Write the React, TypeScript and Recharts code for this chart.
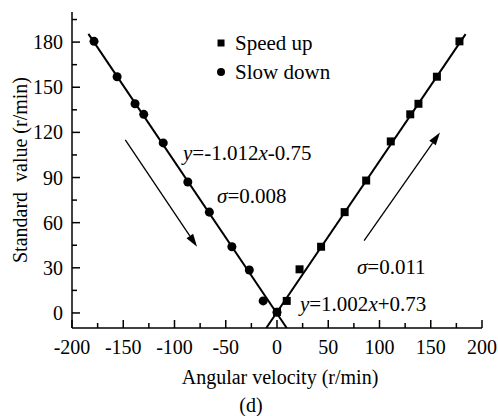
import { Label, ReferenceDot, ReferenceLine, Scatter, ScatterChart, XAxis, YAxis } from 'recharts'

// values
const speedUp = [
  { x: 0, y: 0.7 },
  { x: 9.5, y: 8 },
  { x: 22, y: 29 },
  { x: 43, y: 44 },
  { x: 66, y: 67 },
  { x: 87, y: 88 },
  { x: 111, y: 114 },
  { x: 130, y: 132 },
  { x: 138, y: 139 },
  { x: 156, y: 157 },
  { x: 178, y: 180.5 },
]

const slowDown = [
  { x: 0, y: 0.5 },
  { x: -13.5, y: 8 },
  { x: -27, y: 28.5 },
  { x: -44, y: 44 },
  { x: -66, y: 67 },
  { x: -87, y: 87 },
  { x: -111, y: 113 },
  { x: -130, y: 132 },
  { x: -138.5, y: 139 },
  { x: -156, y: 157 },
  { x: -178.5, y: 180.5 },
]

// fitted lines, end points
const fitSpeed = [
  { x: -10.5, y: -10 },
  { x: 184, y: 185.3 },
]
const fitSlow = [
  { x: -184, y: 185.5 },
  { x: 9.5, y: -10 },
]

const xTicks = [-200, -175, -150, -125, -100, -75, -50, -25, 0, 25, 50, 75, 100, 125, 150, 175, 200]
const yTicks = [0, 15, 30, 45, 60, 75, 90, 105, 120, 135, 150, 165, 180, 195]
const xLabelStep = 50
const yLabelStep = 30

const FONT = 'Liberation Serif, Tinos, Times New Roman, Times, DejaVu Serif, serif'
const axisStroke = { stroke: '#000', strokeWidth: 1.5 }

function BottomTick({ x, y, payload }: any) {
  const major = payload.value % xLabelStep === 0
  const y0 = y - 12
  return (
    <g>
      <line x1={x} x2={x} y1={y0} y2={y0 - (major ? 8 : 5)} stroke="#000" strokeWidth={1.5} />
      {major && (
        <text x={x} y={y} dy="0.71em" textAnchor="middle" fontSize={20} fill="#000" style={{ fontFamily: FONT }}>
          {payload.value}
        </text>
      )}
    </g>
  )
}

function LeftTick({ x, y, payload }: any) {
  const major = payload.value % yLabelStep === 0
  const x0 = x + 9
  return (
    <g>
      <line x1={x0} x2={x0 + (major ? 8 : 5)} y1={y} y2={y} stroke="#000" strokeWidth={1.5} />
      {major && (
        <text x={x} y={y} dy="0.355em" textAnchor="end" fontSize={20} fill="#000" style={{ fontFamily: FONT }}>
          {payload.value}
        </text>
      )}
    </g>
  )
}

function TopTick({ x, y, payload }: any) {
  if (payload.value === -200 || payload.value === 200) return <g />
  return <line x1={x} x2={x} y1={y} y2={y + 5} stroke="#000" strokeWidth={1.5} />
}

function RightTick({ x, y }: any) {
  return <line x1={x} x2={x - 5} y1={y} y2={y} stroke="#000" strokeWidth={1.5} />
}

function ArrowShape(props: any) {
  const { x1, y1, x2, y2 } = props
  const dx = x2 - x1
  const dy = y2 - y1
  const len = Math.sqrt(dx * dx + dy * dy) || 1
  const ux = dx / len
  const uy = dy / len
  const bx = x2 - ux * 13
  const by = y2 - uy * 13
  const nx = -uy * 4
  const ny = ux * 4
  return (
    <g>
      <line x1={x1} y1={y1} x2={bx} y2={by} stroke="#000" strokeWidth={1.3} />
      <polygon points={`${x2},${y2} ${bx + nx},${by + ny} ${bx - nx},${by - ny}`} fill="#000" />
    </g>
  )
}

function Note({ cx, cy, parts }: any) {
  return (
    <text x={cx} y={cy} dominantBaseline="central" fontSize={21} fill="#000" style={{ fontFamily: FONT }}>
      {parts.map((p: [string, boolean], i: number) => (
        <tspan key={i} fontStyle={p[1] ? 'italic' : 'normal'}>
          {p[0]}
        </tspan>
      ))}
    </text>
  )
}

function LegendItem({ cx, cy, kind, text }: any) {
  return (
    <g>
      {kind === 'square' ? (
        <rect x={cx - 3.5} y={cy - 3.5} width={7} height={7} fill="#000" />
      ) : (
        <circle cx={cx} cy={cy} r={4} fill="#000" />
      )}
      <text x={cx + 14} y={cy} dominantBaseline="central" fontSize={21} fill="#000" style={{ fontFamily: FONT }}>
        {text}
      </text>
    </g>
  )
}

export default function App() {
  return (
    <div style={{ position: 'fixed', left: 0, top: 0, background: '#fff', fontFamily: FONT }}>
      <ScatterChart width={498} height={416} margin={{ top: 12, right: 16, bottom: 0, left: 0 }}>
        <XAxis
          type="number"
          dataKey="x"
          domain={[-200, 200]}
          allowDataOverflow
          ticks={xTicks}
          interval={0}
          tickSize={0}
          tickMargin={12}
          tickLine={false}
          axisLine={axisStroke}
          tick={BottomTick}
          height={88}
        >
          <Label
            content={({ viewBox }: any) => (
              <g fontSize={20} fill="#000" style={{ fontFamily: FONT }}>
                <text x={viewBox.x + viewBox.width / 2 + 3} y={viewBox.y + 49} textAnchor="middle" dominantBaseline="central">
                  Angular velocity (r/min)
                </text>
                <text x={viewBox.x + 179} y={viewBox.y + 77} textAnchor="middle" dominantBaseline="central">
                  (d)
                </text>
              </g>
            )}
          />
        </XAxis>
        <XAxis
          xAxisId="top"
          orientation="top"
          type="number"
          dataKey="x"
          domain={[-200, 200]}
          allowDataOverflow
          ticks={xTicks}
          interval={0}
          height={0}
          tickSize={0}
          tickMargin={0}
          tickLine={false}
          axisLine={axisStroke}
          tick={TopTick}
        />

        <YAxis
          type="number"
          dataKey="y"
          domain={[-10, 200]}
          allowDataOverflow
          ticks={yTicks}
          interval={0}
          tickSize={0}
          tickMargin={9}
          tickLine={false}
          axisLine={axisStroke}
          tick={LeftTick}
          width={72}
        >
          <Label
            content={({ viewBox }: any) => (
              <text
                x={19.5}
                y={viewBox.y + viewBox.height / 2}
                transform={`rotate(-90, 19.5, ${viewBox.y + viewBox.height / 2})`}
                textAnchor="middle"
                dominantBaseline="central"
                fontSize={20}
                fill="#000"
                style={{ whiteSpace: 'pre', fontFamily: FONT }}
              >
                {'Standard  value (r/min)'}
              </text>
            )}
          />
        </YAxis>
        <YAxis
          yAxisId="right"
          orientation="right"
          type="number"
          dataKey="y"
          domain={[-10, 200]}
          allowDataOverflow
          ticks={yTicks}
          interval={0}
          width={0}
          tickSize={0}
          tickMargin={0}
          tickLine={false}
          axisLine={axisStroke}
          tick={RightTick}
        />

        <Scatter data={fitSpeed} line={{ stroke: '#000', strokeWidth: 2 }} shape={() => <g />} isAnimationActive={false} />
        <Scatter data={fitSlow} line={{ stroke: '#000', strokeWidth: 2 }} shape={() => <g />} isAnimationActive={false} />
        <Scatter name="Speed up" data={speedUp} xAxisId="top" yAxisId="right" shape="square" fill="#000" isAnimationActive={false} />
        <Scatter name="Slow down" data={slowDown} shape="circle" fill="#000" isAnimationActive={false} />

        <ReferenceLine segment={[{ x: -148, y: 115 }, { x: -78, y: 44 }]} shape={ArrowShape} />
        <ReferenceLine segment={[{ x: 85, y: 48 }, { x: 159, y: 120 }]} shape={ArrowShape} />

        <ReferenceDot x={-54.6} y={179.4} r={0} shape={(p: any) => <LegendItem cx={p.cx} cy={p.cy} kind="square" text="Speed up" />} />
        <ReferenceDot x={-54.6} y={160.2} r={0} shape={(p: any) => <LegendItem cx={p.cx} cy={p.cy} kind="circle" text="Slow down" />} />

        <ReferenceDot x={-91.7} y={106.5} r={0} shape={(p: any) => <Note cx={p.cx} cy={p.cy} parts={[['y', true], ['=-1.012', false], ['x', true], ['-0.75', false]]} />} />
        <ReferenceDot x={-58.5} y={78} r={0} shape={(p: any) => <Note cx={p.cx} cy={p.cy} parts={[['σ', true], ['=0.008', false]]} />} />
        <ReferenceDot x={78} y={30.4} r={0} shape={(p: any) => <Note cx={p.cx} cy={p.cy} parts={[['σ', true], ['=0.011', false]]} />} />
        <ReferenceDot x={22.4} y={6} r={0} shape={(p: any) => <Note cx={p.cx} cy={p.cy} parts={[['y', true], ['=1.002', false], ['x', true], ['+0.73', false]]} />} />
      </ScatterChart>
    </div>
  )
}
